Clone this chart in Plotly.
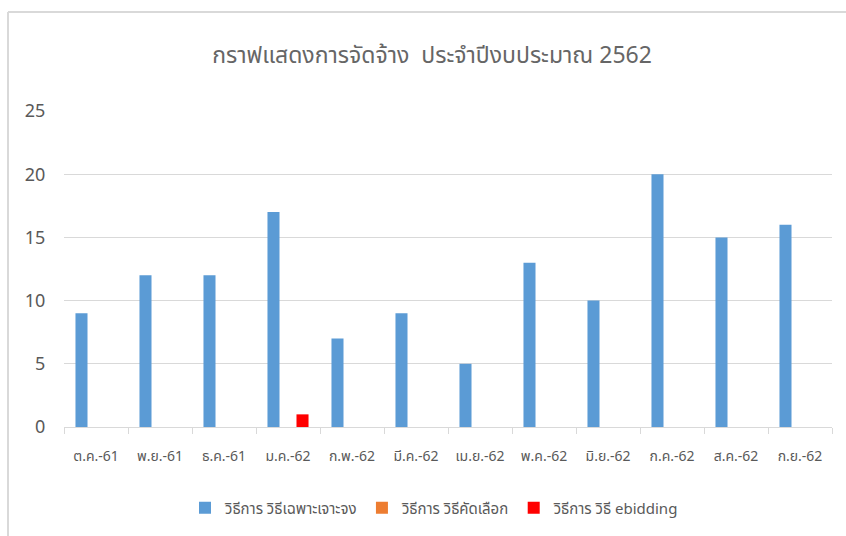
import plotly.graph_objects as go

months = ["ต.ค.-61", "พ.ย.-61", "ธ.ค.-61", "ม.ค.-62", "ก.พ.-62", "มี.ค.-62",
          "เม.ย.-62", "พ.ค.-62", "มิ.ย.-62", "ก.ค.-62", "ส.ค.-62", "ก.ย.-62"]
specific = [9, 12, 12, 17, 7, 9, 5, 13, 10, 20, 15, 16]
selection = [0, 0, 0, 0, 0, 0, 0, 0, 0, 0, 0, 0]
ebidding = [0, 0, 0, 1, 0, 0, 0, 0, 0, 0, 0, 0]

names = ["วิธีการ วิธีเฉพาะเจาะจง", "วิธีการ วิธีคัดเลือก", "วิธีการ วิธี ebidding"]
colors = ["#5b9bd5", "#ed7d31", "#ff0000"]

fig = go.Figure()
for name, vals, c in zip(names, [specific, selection, ebidding], colors):
    fig.add_trace(go.Bar(x=months, y=vals, name=name, marker=dict(color=c, line=dict(width=0))))

W, H = 846, 536
l, r, t, b = 64, 14, 111, 109
pw, ph = W - l - r, H - t - b

bx0 = (8 - l) / pw
bx1 = (W + 20 - l) / pw
by0 = -(b + 20) / ph
by1 = 1 + (t - 12) / ph

fig.update_layout(
    width=W, height=H,
    margin=dict(l=l, r=r, t=t, b=b),
    paper_bgcolor="white", plot_bgcolor="white",
    barmode="group", bargap=0.32, bargroupgap=0.17,
    font=dict(family="Noto Sans, Noto Sans Thai, sans-serif", color="#595959"),
    title=dict(text="กราฟแสดงการจัดจ้าง  ประจำปีงบประมาณ 2562", x=432 / W, xanchor="center",
               y=1 - 55 / H, yanchor="middle", yref="container",
               font=dict(size=23, color="#666666")),
    showlegend=True,
    legend=dict(orientation="h", x=(434 - l) / pw, xanchor="center",
                y=-(508 - 427) / ph, yanchor="middle",
                font=dict(size=15, color="#595959"), traceorder="normal"),
    xaxis=dict(showline=True, linecolor="#d9d9d9", linewidth=1,
               ticks="outside", tickson="boundaries", ticklen=6, tickcolor="#d9d9d9",
               ticklabelstandoff=16,
               tickfont=dict(size=14, color="#595959"), showgrid=False),
    yaxis=dict(range=[0, 25], dtick=5, showline=False, gridcolor="#d9d9d9", gridwidth=1,
               zeroline=False, tickfont=dict(size=18, color="#595959", family="Noto Sans, sans-serif"),
               ticks="outside", ticklen=14, tickcolor="rgba(0,0,0,0)"),
    shapes=[
        dict(type="line", xref="paper", yref="paper", x0=bx0, x1=bx0, y0=by0, y1=by1,
             line=dict(color="#d9d9d9", width=2), layer="below"),
        dict(type="line", xref="paper", yref="paper", x0=bx0, x1=bx1, y0=by1, y1=by1,
             line=dict(color="#d9d9d9", width=2), layer="below"),
    ],
)

fig.write_html(
    "out.html",
    config={"displayModeBar": False},
    post_script="document.body.style.margin='0';document.body.style.overflow='hidden';",
)
